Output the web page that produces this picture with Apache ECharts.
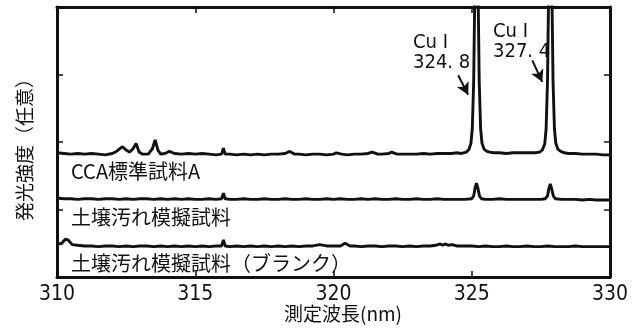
<!DOCTYPE html>
<html>
<head>
<meta charset="utf-8">
<script src="https://cdn.jsdelivr.net/npm/echarts@6/dist/echarts.min.js"></script>
<style>
html,body{margin:0;padding:0;background:#fff;}
#c{width:640px;height:329px;}
</style>
</head>
<body>
<div id="c"></div>
<script>
// wavelength ticks
const xTicks = [310, 315, 320, 325, 330];
const seriesNames = ['CCA標準試料A', '土壌汚れ模擬試料', '土壌汚れ模擬試料（ブランク）'];

// CCA standard sample A  [wavelength nm, intensity (offset, arbitrary)]
const ccaData = [
[310.00,1.84],[310.25,1.83],[310.50,1.82],[310.75,1.83],[311.00,1.82],[311.25,1.83],[311.50,1.82],[311.75,1.81],
[312.00,1.83],[312.15,1.86],[312.37,1.93],[312.50,1.88],[312.62,1.85],[312.75,1.90],[312.86,1.98],[312.97,1.85],
[313.10,1.82],[313.30,1.82],[313.45,1.90],[313.55,2.03],[313.65,1.88],[313.75,1.82],[313.90,1.83],[314.07,1.86],
[314.25,1.83],[314.50,1.82],[314.75,1.83],[315.00,1.82],[315.25,1.83],[315.50,1.82],[315.75,1.81],[315.95,1.82],
[316.02,1.91],[316.08,1.82],[316.25,1.82],[316.50,1.81],[316.75,1.82],[317.00,1.81],[317.25,1.82],[317.50,1.81],
[317.75,1.82],[318.00,1.82],[318.25,1.83],[318.42,1.86],[318.60,1.82],[318.75,1.82],[319.00,1.81],[319.25,1.82],
[319.50,1.82],[319.75,1.81],[320.00,1.82],[320.10,1.84],[320.30,1.82],[320.50,1.81],[320.75,1.82],[321.00,1.82],
[321.25,1.83],[321.40,1.85],[321.60,1.82],[321.75,1.82],[322.00,1.83],[322.10,1.85],[322.30,1.82],[322.50,1.82],
[322.75,1.82],[323.00,1.82],[323.25,1.83],[323.50,1.82],[323.75,1.83],[324.00,1.83],[324.25,1.83],[324.50,1.84],
[324.60,1.83],[324.70,1.84],[324.80,1.85],[324.90,1.89],[324.97,1.98],[325.02,2.20],[325.07,2.90],[325.11,4.20],
[325.17,6.50],[325.23,4.20],[325.27,2.90],[325.32,2.20],[325.37,1.98],[325.45,1.89],[325.55,1.86],[325.65,1.85],
[325.80,1.84],[326.00,1.84],[326.25,1.83],[326.50,1.84],[326.75,1.84],[327.00,1.84],[327.15,1.84],
[327.30,1.84],[327.45,1.85],[327.55,1.88],[327.64,1.97],[327.69,2.20],[327.74,2.90],[327.78,4.20],[327.84,6.50],
[327.90,4.20],[327.94,2.90],[327.99,2.20],[328.04,1.98],[328.12,1.89],[328.22,1.86],[328.35,1.84],
[328.50,1.83],[328.75,1.83],[329.00,1.82],[329.25,1.82],[329.50,1.82],[329.75,1.81],[330.00,1.81]
];

// simulated soil contamination sample
const soilData = [
[310.00,1.17],[310.25,1.16],[310.50,1.16],[310.75,1.15],[311.00,1.16],[311.25,1.16],[311.50,1.15],[311.75,1.16],
[312.00,1.16],[312.25,1.15],[312.50,1.16],[312.75,1.15],[313.00,1.16],[313.25,1.16],[313.50,1.15],[313.75,1.16],
[314.00,1.15],[314.25,1.16],[314.50,1.15],[314.75,1.16],[315.00,1.15],[315.25,1.15],[315.50,1.16],[315.75,1.15],
[315.95,1.16],[316.02,1.24],[316.08,1.16],[316.25,1.15],[316.50,1.15],[316.75,1.16],[317.00,1.15],[317.25,1.15],
[317.50,1.16],[317.75,1.15],[318.00,1.15],[318.25,1.16],[318.50,1.15],[318.75,1.15],[319.00,1.16],[319.25,1.15],
[319.50,1.15],[319.75,1.16],[320.00,1.15],[320.25,1.16],[320.50,1.15],[320.75,1.15],[321.00,1.16],[321.25,1.15],
[321.50,1.16],[321.75,1.15],[322.00,1.15],[322.25,1.16],[322.50,1.15],[322.75,1.15],[323.00,1.16],[323.25,1.15],
[323.50,1.15],[323.75,1.16],[324.00,1.15],[324.25,1.15],[324.50,1.15],[324.75,1.15],[325.00,1.16],
[325.07,1.20],[325.12,1.32],[325.17,1.39],[325.22,1.32],[325.28,1.20],[325.35,1.16],
[325.50,1.15],[325.75,1.15],[326.00,1.16],[326.25,1.15],[326.50,1.15],[326.75,1.15],[327.00,1.15],[327.25,1.15],
[327.50,1.15],[327.66,1.16],[327.74,1.20],[327.79,1.31],[327.84,1.38],[327.89,1.31],[327.95,1.20],[328.02,1.16],
[328.25,1.15],[328.50,1.15],[328.75,1.15],[329.00,1.14],[329.25,1.15],[329.50,1.14],[329.75,1.14],[330.00,1.14]
];

// simulated soil contamination sample (blank)
const blankData = [
[310.00,0.50],[310.15,0.49],[310.30,0.56],[310.40,0.55],[310.55,0.48],[310.75,0.47],[311.00,0.46],[311.25,0.46],
[311.50,0.45],[311.75,0.46],[312.00,0.46],[312.25,0.45],[312.50,0.46],[312.75,0.45],[313.00,0.46],[313.25,0.46],
[313.50,0.45],[313.75,0.46],[314.00,0.45],[314.25,0.46],[314.50,0.45],[314.75,0.46],[315.00,0.45],[315.25,0.46],
[315.50,0.45],[315.75,0.46],[315.95,0.46],[316.02,0.55],[316.08,0.46],[316.25,0.45],[316.50,0.46],[316.75,0.45],
[317.00,0.46],[317.25,0.45],[317.50,0.46],[317.75,0.45],[318.00,0.46],[318.25,0.45],[318.50,0.46],[318.75,0.45],
[319.00,0.46],[319.25,0.46],[319.50,0.48],[319.75,0.46],[320.00,0.46],[320.25,0.46],[320.42,0.50],[320.60,0.46],
[320.75,0.46],[321.00,0.45],[321.25,0.46],[321.50,0.46],[321.75,0.45],[322.00,0.46],[322.25,0.46],[322.50,0.45],
[322.75,0.46],[323.00,0.45],[323.25,0.46],[323.50,0.46],[323.70,0.47],[323.86,0.49],[323.95,0.47],[324.04,0.49],
[324.15,0.47],[324.30,0.48],[324.45,0.46],[324.75,0.46],[325.00,0.46],[325.25,0.45],[325.50,0.46],[325.75,0.45],
[326.00,0.45],[326.25,0.46],[326.50,0.45],[326.75,0.45],[327.00,0.46],[327.25,0.45],[327.50,0.45],[327.75,0.46],
[328.00,0.45],[328.25,0.45],[328.50,0.45],[328.75,0.46],[329.00,0.45],[329.25,0.45],[329.50,0.45],[329.75,0.45],
[330.00,0.45]
];

// annotation arrows [start, end] in data coordinates
const arrow1 = [[324.51, 2.99], [324.87, 2.70]];
const arrow2 = [[327.19, 3.21], [327.55, 2.89]];

const INK = '#111111';
const NARROW = '"Liberation Sans Narrow", "Arial Narrow", "DejaVu Sans Condensed", sans-serif';
const CJK = '"Noto Sans CJK JP", "Noto Sans CJK SC", sans-serif';

const chart = echarts.init(document.getElementById('c'), null, {renderer: 'canvas'});

function xAxisCfg(pos, showLabel) {
  return {
    type: 'value', position: pos, min: xTicks[0], max: xTicks[xTicks.length-1], interval: 5,
    axisLine: {show: true, onZero: false, lineStyle: {color: INK, width: 3}},
    axisTick: {show: true, inside: true, length: 6, lineStyle: {color: INK, width: 1.5}},
    axisLabel: {show: showLabel, color: INK, fontSize: 21, fontFamily: NARROW, margin: 7},
    splitLine: {show: false}
  };
}
function yAxisCfg(pos, withName) {
  const c = {
    type: 'value', position: pos, min: 0, max: 4, interval: 1,
    axisLine: {show: true, onZero: false, lineStyle: {color: INK, width: 3}},
    axisTick: {show: true, inside: true, length: 6, lineStyle: {color: INK, width: 1.5}},
    axisLabel: {show: false},
    splitLine: {show: false}
  };
  if (withName) {
    c.name = '発光強度（任意）';
    c.nameLocation = 'middle';
    c.nameGap = 23;
    c.nameTextStyle = {color: INK, fontSize: 19, fontFamily: CJK, padding: [0, 6, 0, 0]};
  }
  return c;
}

function lineSeries(name, data, extra) {
  return Object.assign({
    name: name, type: 'line', data: data, xAxisIndex: 0, yAxisIndex: 0,
    showSymbol: false, symbol: 'none', smooth: false, clip: true,
    lineStyle: {color: INK, width: 2.9}, animation: false, silent: true
  }, extra || {});
}

const option = {
  backgroundColor: '#fff',
  animation: false,
  grid: {left: 57, top: 7, right: 30, bottom: 52, containLabel: false},
  xAxis: [xAxisCfg('bottom', true), xAxisCfg('top', false)],
  yAxis: [yAxisCfg('left', true), yAxisCfg('right', false)],
  series: [
    lineSeries(seriesNames[0], ccaData, {
      markLine: {
        silent: true, animation: false,
        symbol: ['none', 'arrow'], symbolSize: [10, 12],
        lineStyle: {color: INK, width: 2, type: 'solid'},
        label: {show: false},
        data: [
          [{coord: arrow1[0]}, {coord: arrow1[1]}],
          [{coord: arrow2[0]}, {coord: arrow2[1]}]
        ]
      }
    }),
    lineSeries(seriesNames[1], soilData),
    lineSeries(seriesNames[2], blankData)
  ],
  graphic: [
    {type: 'text', left: 71, top: 161, style: {text: seriesNames[0], fill: INK, fontSize: 20, fontFamily: CJK}},
    {type: 'text', left: 71, top: 207, style: {text: seriesNames[1], fill: INK, fontSize: 20, fontFamily: CJK}},
    {type: 'text', left: 71, top: 253, style: {text: seriesNames[2], fill: INK, fontSize: 20, fontFamily: CJK}},
    {type: 'text', left: 413, top: 33, style: {text: 'Cu I\n324. 8', fill: INK, fontSize: 20, lineHeight: 20, fontFamily: NARROW}},
    {type: 'text', left: 493, top: 22, style: {text: 'Cu I\n327. 4', fill: INK, fontSize: 20, lineHeight: 20, fontFamily: NARROW}},
    {type: 'text', x: 343, y: 314, style: {text: '測定波長(nm)', fill: INK, fontSize: 19, fontFamily: CJK, textAlign: 'center', textVerticalAlign: 'middle'}}
  ]
};
chart.setOption(option);
</script>
</body>
</html>
